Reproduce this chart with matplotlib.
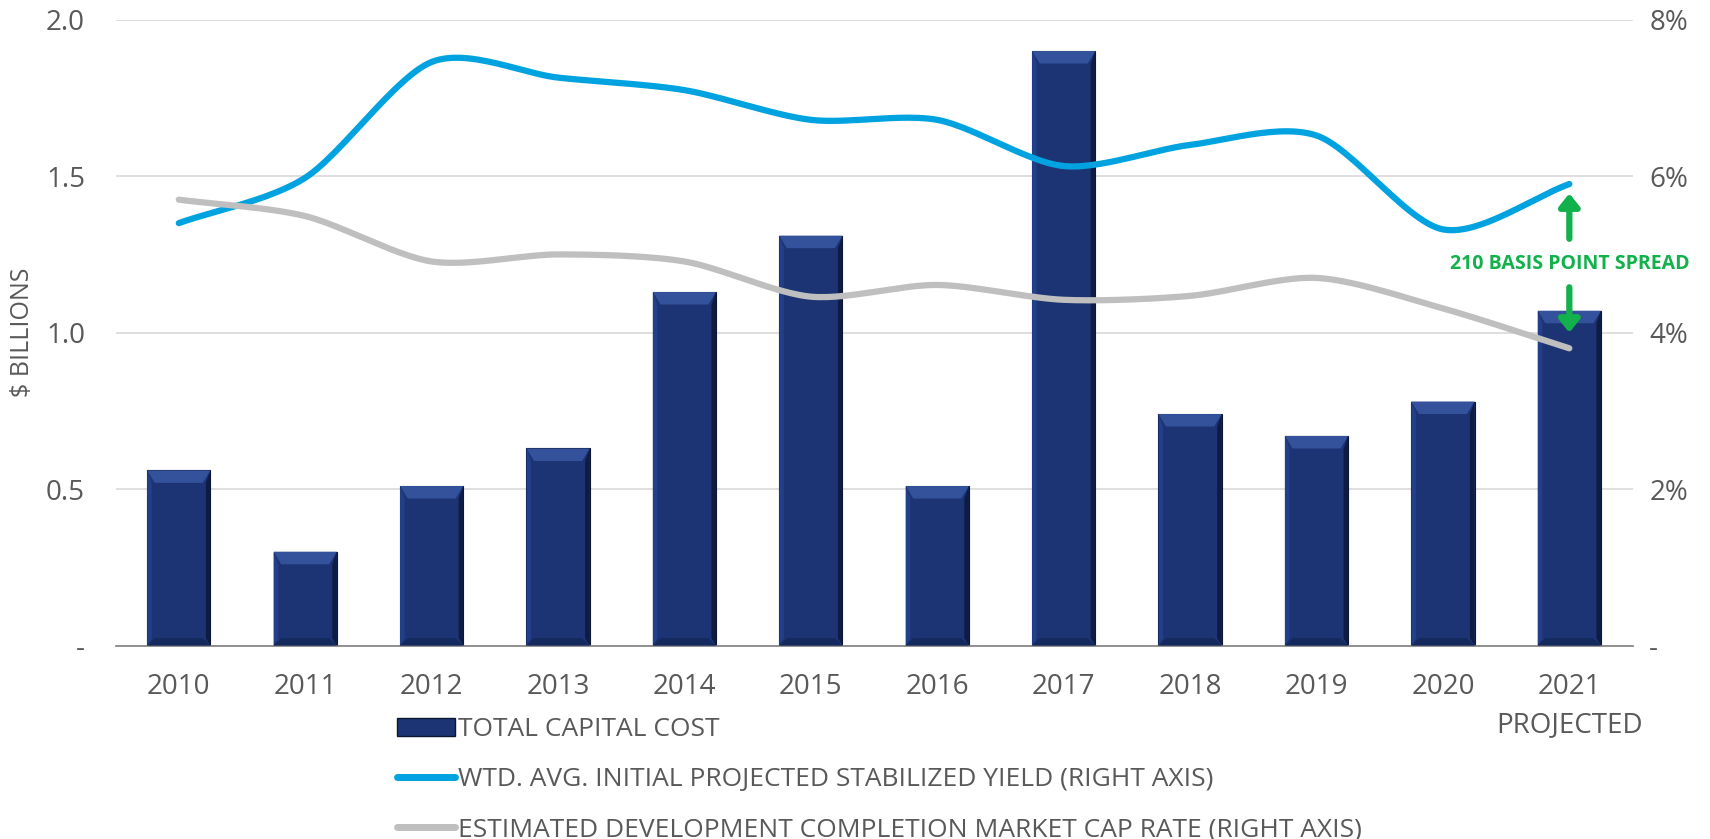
import numpy as np
import matplotlib
matplotlib.use('Agg')
import matplotlib.pyplot as plt
from matplotlib.patches import Polygon, Rectangle
from matplotlib.lines import Line2D

years = ['2010', '2011', '2012', '2013', '2014', '2015', '2016', '2017', '2018', '2019', '2020', '2021\nPROJECTED']
capital_cost = [0.56, 0.30, 0.51, 0.63, 1.13, 1.31, 0.51, 1.90, 0.74, 0.67, 0.78, 1.07]
yield_pct = [5.40, 5.98, 7.46, 7.26, 7.10, 6.72, 6.72, 6.13, 6.40, 6.52, 5.32, 5.90]
cap_rate_pct = [5.70, 5.49, 4.91, 5.00, 4.91, 4.46, 4.61, 4.42, 4.47, 4.70, 4.31, 3.80]

left_ticks = [0, 0.5, 1.0, 1.5, 2.0]
left_labels = ['-', '0.5', '1.0', '1.5', '2.0']
right_ticks = [0, 2, 4, 6, 8]
right_labels = ['-', '2%', '4%', '6%', '8%']

NAVY = '#1c3473'
BLUE = '#00a3e0'
GRAY = '#bfbfbf'
GREEN = '#12b14c'
TXT = '#595959'

plt.rcParams['font.family'] = ['Open Sans', 'DejaVu Sans']


def smooth(xs, ys, n=30):
    # Catmull-Rom style smoothing like Excel's "smoothed line"
    xs = np.asarray(xs, float)
    ys = np.asarray(ys, float)
    px = np.concatenate([[2 * xs[0] - xs[1]], xs, [2 * xs[-1] - xs[-2]]])
    py = np.concatenate([[2 * ys[0] - ys[1]], ys, [2 * ys[-1] - ys[-2]]])
    ox, oy = [], []
    t = np.linspace(0, 1, n)
    for i in range(1, len(px) - 2):
        for p, o in ((px, ox), (py, oy)):
            p0, p1, p2, p3 = p[i - 1], p[i], p[i + 1], p[i + 2]
            m1 = (p2 - p0) / 2 * 0.85
            m2 = (p3 - p1) / 2 * 0.85
            h00 = 2 * t**3 - 3 * t**2 + 1
            h10 = t**3 - 2 * t**2 + t
            h01 = -2 * t**3 + 3 * t**2
            h11 = t**3 - t**2
            o.extend(h00 * p1 + h10 * m1 + h01 * p2 + h11 * m2)
    return np.array(ox), np.array(oy)


fig = plt.figure(figsize=(17.1, 8.39), dpi=100)
ax = fig.add_axes([0.0676, 0.2305, 0.8871, 0.746])
ax2 = ax.twinx()

x = np.arange(len(years))
bars = ax.bar(x, capital_cost, width=0.5, color=NAVY, edgecolor='#0b1633', linewidth=0.8, zorder=2)

# bevel effect on bars
bx, by = 0.06, 0.04
for b in bars:
    x0, w, h = b.get_x(), b.get_width(), b.get_height()
    x1 = x0 + w
    ax.add_patch(Polygon([(x0, h), (x1, h), (x1 - bx, h - by), (x0 + bx, h - by)],
                         closed=True, color='#34519b', lw=0, zorder=3))
    ax.add_patch(Polygon([(x1, h), (x1, 0), (x1 - bx * 0.6, by * 0.6), (x1 - bx * 0.6, h - by)],
                         closed=True, color='#0e1c44', lw=0, zorder=3))
    ax.add_patch(Polygon([(x0, 0), (x1, 0), (x1 - bx, by * 0.6), (x0 + bx, by * 0.6)],
                         closed=True, color='#142a5e', lw=0, zorder=3))
    ax.add_patch(Polygon([(x0, h), (x0, 0), (x0 + bx * 0.6, by * 0.6), (x0 + bx * 0.6, h - by)],
                         closed=True, color='#22408a', lw=0, zorder=3))

sx, sy = smooth(x, yield_pct)
ax2.plot(sx, sy, color=BLUE, lw=4.5, solid_capstyle='round', zorder=4)
gx, gy = smooth(x, cap_rate_pct)
ax2.plot(gx, gy, color=GRAY, lw=4.5, solid_capstyle='round', zorder=4)

ax.set_xlim(-0.5, len(years) - 0.5)
ax.set_ylim(0, 2.0)
ax2.set_ylim(0, 8)
ax.set_yticks(left_ticks)
ax.set_yticklabels(left_labels)
ax2.set_yticks(right_ticks)
ax2.set_yticklabels(right_labels)
ax.set_xticks(x)
ax.set_xticklabels(years, linespacing=1.45)

ax.grid(axis='y', color='#d9d9d9', lw=1.2, zorder=0)
ax.set_axisbelow(True)
for a in (ax, ax2):
    for s in a.spines.values():
        s.set_visible(False)
    a.tick_params(length=0, labelsize=20, colors=TXT)
ax.spines['bottom'].set_visible(True)
ax.spines['bottom'].set_color('#7f7f7f')
ax.spines['bottom'].set_linewidth(1.2)
ax.tick_params(axis='x', pad=20)
ax.tick_params(axis='y', pad=22)
ax2.tick_params(axis='y', pad=12)
ax.set_ylabel('$ BILLIONS', fontsize=18, color=TXT, labelpad=8)

# spread annotation
xa = x[-1]
arrow = dict(arrowstyle='-|>,head_width=0.6,head_length=0.75', color=GREEN, lw=4.5,
             shrinkA=0, shrinkB=0)
ax2.annotate('', xy=(xa, yield_pct[-1] - 0.12), xytext=(xa, 5.2), arrowprops=arrow, zorder=5)
ax2.annotate('', xy=(xa, cap_rate_pct[-1] + 0.2), xytext=(xa, 4.58), arrowprops=arrow, zorder=5)
ax2.text(xa, 4.88, '210 BASIS POINT SPREAD', color=GREEN, fontsize=14, fontweight='bold',
         ha='center', va='center', zorder=6)

handles = [Rectangle((0, 0), 1, 1, facecolor=NAVY, edgecolor='#0b1633'),
           Line2D([], [], color=BLUE, lw=5, solid_capstyle='round'),
           Line2D([], [], color=GRAY, lw=5, solid_capstyle='round')]
labels = ['TOTAL CAPITAL COST',
          'WTD. AVG. INITIAL PROJECTED STABILIZED YIELD (RIGHT AXIS)',
          'ESTIMATED DEVELOPMENT COMPLETION MARKET CAP RATE (RIGHT AXIS)']
leg = fig.legend(handles, labels, loc='upper left', bbox_to_anchor=(0.226, 0.158),
                 frameon=False, handlelength=2.2, handletextpad=0.1, labelspacing=0.95,
                 prop=dict(size=19), borderaxespad=0)
for t in leg.get_texts():
    t.set_color(TXT)

fig.savefig('out.png', dpi=100)
